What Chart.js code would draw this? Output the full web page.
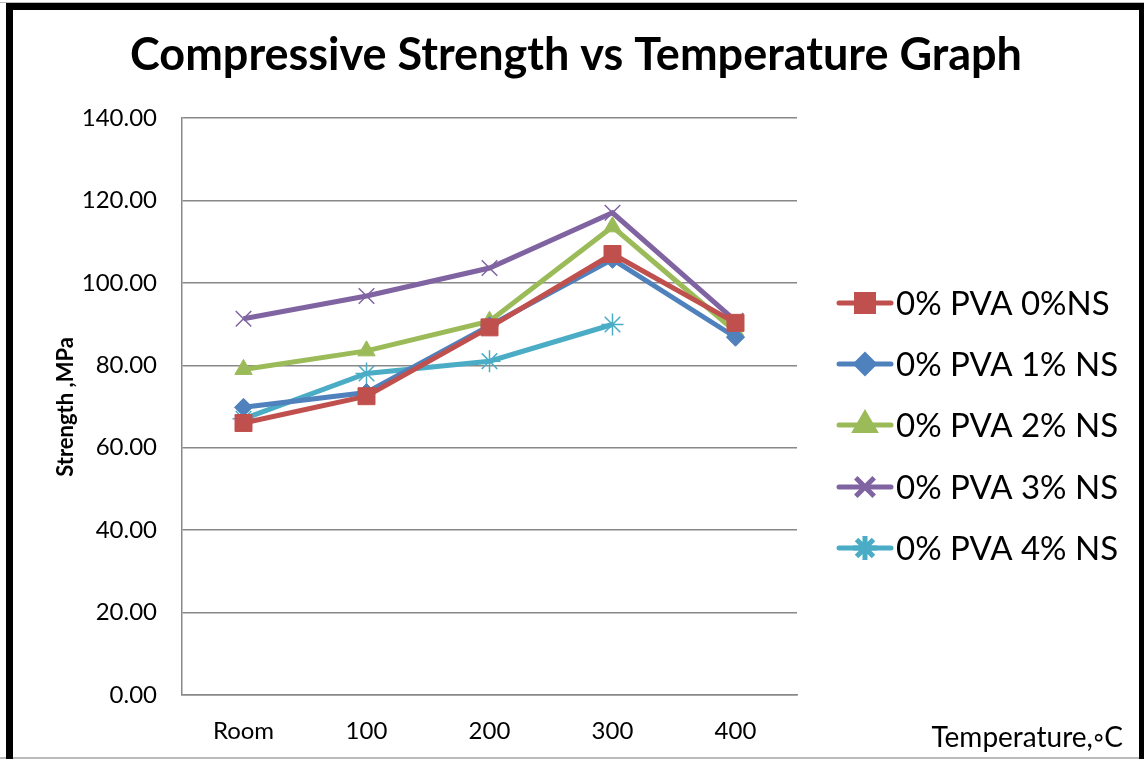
<!DOCTYPE html>
<html>
<head>
<meta charset="utf-8">
<script src="https://cdn.jsdelivr.net/npm/chart.js@4"></script>
<style>
  html, body { margin: 0; padding: 0; background: #fff; }
  #wrap { position: relative; width: 1144px; height: 759px; }
</style>
</head>
<body>
<div id="wrap"><canvas id="strengthChart" width="1144" height="759"></canvas></div>
<script>
// Compressive strength vs temperature

const temperatures = ['Room', '100', '200', '300', '400'];
const seriesNames = ['0% PVA 0%NS', '0% PVA 1% NS', '0% PVA 2% NS', '0% PVA 3% NS', '0% PVA 4% NS'];
const pva0ns0 = [66.0, 72.5, 89.2, 107.0, 90.3];
const pva0ns1 = [69.8, 73.4, 89.6, 105.7, 86.8];
const pva0ns2 = [79.0, 83.5, 90.7, 113.6, 88.2];
const pva0ns3 = [91.3, 96.8, 103.6, 117.0, 90.8];
const pva0ns4 = [67.0, 78.0, 81.0, 89.9, null];
const yTicks = [0, 20, 40, 60, 80, 100, 120, 140];

const colors = ['#C0504D', '#4F81BD', '#9BBB59', '#8064A2', '#4BACC6'];
const markers = ['rect', 'rectRot', 'triangle', 'crossRot', 'star'];
const markerSizes = [12, 9, 10, 11, 11];
const legendSizes = [12, 9, 11, 13, 12];
const FONT = 'Lato, "Open Sans", sans-serif';

function makeDataset(i, values) {
	const thin = markers[i] === 'crossRot' || markers[i] === 'star';
	return {
		label: seriesNames[i],
		data: values,
		borderColor: colors[i],
		backgroundColor: colors[i],
		pointBorderColor: colors[i],
		pointBackgroundColor: colors[i],
		pointStyle: markers[i],
		pointRadius: markerSizes[i],
		pointBorderWidth: thin ? 1.5 : 1,
		borderWidth: 5,
		tension: 0,
		spanGaps: false
	};
}

// frame, extra titles and Excel-style legend
const decorations = {
	id: 'decorations',
	beforeDraw(chart) {
		const ctx = chart.ctx;
		ctx.save();
		ctx.fillStyle = '#fff';
		ctx.fillRect(0, 0, chart.width, chart.height);
		// faint lines outside frame
		ctx.fillStyle = '#bbb';
		ctx.fillRect(0, 2, chart.width, 1);
		ctx.fillRect(0, 757, chart.width, 2);
		// black frame
		ctx.fillStyle = '#000';
		ctx.fillRect(6, 3, chart.width - 6, 7);
		ctx.fillRect(6, 3, 7, chart.height - 3);
		ctx.fillRect(1139, 3, 5, chart.height - 3);
		ctx.restore();
	},
	afterDraw(chart) {
		const ctx = chart.ctx;
		ctx.save();
		ctx.fillStyle = '#000';
		// main title
		ctx.font = 'bold 45px ' + FONT;
		ctx.textAlign = 'center';
		ctx.textBaseline = 'alphabetic';
		ctx.fillText('Compressive Strength vs Temperature Graph', 576, 70);
		// y title
		ctx.save();
		ctx.translate(66, 407);
		ctx.rotate(-Math.PI / 2);
		ctx.font = 'bold 22px ' + FONT;
		ctx.textBaseline = 'middle';
		ctx.fillText('Strength ,MPa', 0, 0);
		ctx.restore();
		// x title
		ctx.font = '28px ' + FONT;
		ctx.textAlign = 'right';
		ctx.textBaseline = 'middle';
		ctx.fillText('Temperature,\u25E6C', 1123, 738);
		// legend
		const rowY = [303, 364, 425, 487, 548];
		chart.data.datasets.forEach((ds, i) => {
			const y = rowY[i];
			ctx.strokeStyle = ds.borderColor;
			ctx.fillStyle = ds.borderColor;
			ctx.lineWidth = 5;
			ctx.lineCap = 'round';
			ctx.beginPath();
			ctx.moveTo(839, y);
			ctx.lineTo(891, y);
			ctx.stroke();
			ctx.lineCap = 'butt';
			Chart.helpers.drawPoint(ctx, {
				pointStyle: ds.pointStyle,
				radius: legendSizes[i],
				borderWidth: ds.pointBorderWidth,
				rotation: 0
			}, 865, y);
			ctx.fillStyle = '#000';
			ctx.font = '33px ' + FONT;
			ctx.textAlign = 'left';
			ctx.textBaseline = 'middle';
			ctx.fillText(ds.label, 896, y + 1);
		});
		ctx.restore();
	}
};

window.addEventListener('DOMContentLoaded', () => {
	const ctx = document.getElementById('strengthChart');
	new Chart(ctx, {
		type: 'line',
		data: {
			labels: temperatures,
			datasets: [
				makeDataset(0, pva0ns0),
				makeDataset(1, pva0ns1),
				makeDataset(2, pva0ns2),
				makeDataset(3, pva0ns3),
				makeDataset(4, pva0ns4)
			]
		},
		options: {
			responsive: false,
			animation: false,
			layout: { padding: { top: 118, right: 347, left: 0, bottom: 0 } },
			plugins: {
				legend: { display: false },
				title: { display: false },
				tooltip: { enabled: false }
			},
			scales: {
				x: {
					offset: true,
					grid: { display: false, drawTicks: false },
					border: { display: true, color: '#888', width: 1.5 },
					ticks: { color: '#000', font: { family: FONT, size: 24 }, padding: 22, maxRotation: 0 },
					afterFit(scale) { scale.height = 64; }
				},
				y: {
					min: 0,
					max: 140,
					afterBuildTicks(scale) { scale.ticks = yTicks.map(v => ({ value: v })); },
					grid: { color: '#888', lineWidth: 1.5, drawTicks: false },
					border: { display: true, color: '#888', width: 1.5 },
					ticks: {
						color: '#000',
						font: { family: FONT, size: 24 },
						padding: 25,
						callback: v => Number(v).toFixed(2)
					},
					afterFit(scale) { scale.width = 182; }
				}
			}
		},
		plugins: [decorations]
	});
});
</script>
</body>
</html>
